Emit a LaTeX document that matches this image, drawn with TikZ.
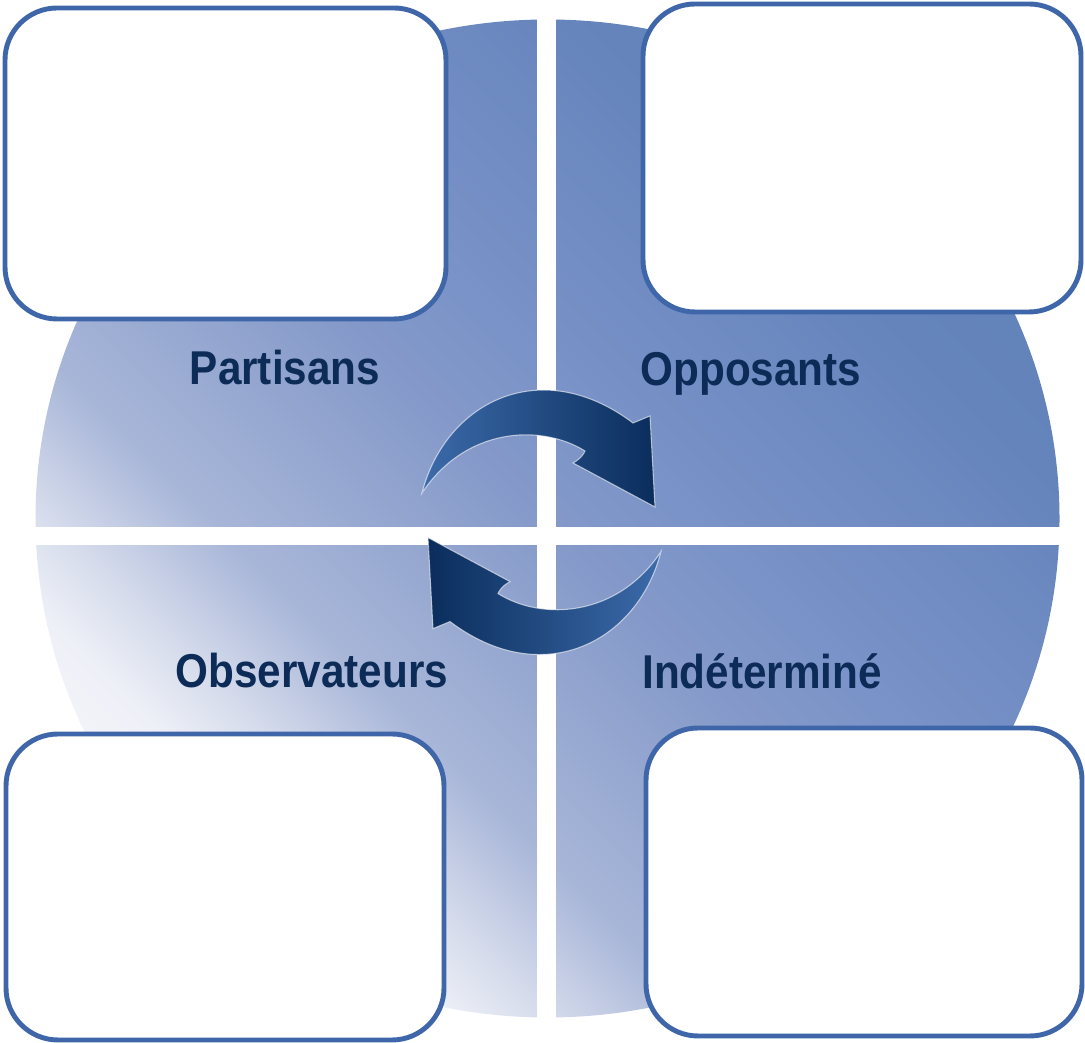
\documentclass[tikz,border=0pt]{standalone}
\usepackage{fontspec}
\setmainfont{Liberation Sans}[FakeStretch=0.89]
\usepackage{xcolor}
\definecolor{3e66a9}{HTML}{3E66A9}
\definecolor{0c2b57}{HTML}{0C2B57}
\definecolor{3c6baa}{HTML}{3C6BAA}
\definecolor{0a2d5c}{HTML}{0A2D5C}
\definecolor{f4f5fa}{HTML}{F4F5FA}
\definecolor{eef0f7}{HTML}{EEF0F7}
\definecolor{d6dcec}{HTML}{D6DCEC}
\definecolor{a8b6d8}{HTML}{A8B6D8}
\definecolor{8499c9}{HTML}{8499C9}
\definecolor{7a93c8}{HTML}{7A93C8}
\definecolor{6584bc}{HTML}{6584BC}
\definecolor{6282ba}{HTML}{6282BA}
\usepackage{tikz}

% fade of the disc along its diagonal; the disc spans 25bp .. 75bp
\pgfdeclarehorizontalshading{discfade}{100bp}{%
  color(0bp)=(white); color(25bp)=(f4f5fa); color(29bp)=(eef0f7);
  color(32.5bp)=(d6dcec); color(38bp)=(a8b6d8); color(50bp)=(8499c9);
  color(55bp)=(7a93c8); color(69bp)=(6584bc); color(75bp)=(6282ba);
  color(100bp)=(6282ba)}

\tikzset{
  namebox/.style={draw=3e66a9, line width=1.4pt, fill=white, rounded corners=0.52cm},
  quartlabel/.style={anchor=base, inner sep=0pt, text=0c2b57,
    font=\bfseries\fontsize{13.5}{16}\selectfont},
  turnarrow/.style={draw=white, draw opacity=0.6, line width=0.3pt},
}

\begin{document}
\begin{tikzpicture}[x=0.01cm, y=0.01cm]
            \useasboundingbox (0, 0) rectangle (1085, 1043);

            % the disc: a shaded square turned by 45 degrees, cut to the disc
            \begin{scope}
                \clip (547.5, 524.5) ellipse [x radius=512, y radius=499];
                \begin{scope}[transform canvas={rotate around={45:(547.5, 524.5)}}]
                    \shade[shading=discfade] (42.5, -35.5) rectangle (1052.5, 1084.5);
                \end{scope}
            \end{scope}

            % white cross between the quarters
            \fill[white] (537, 0) rectangle (556, 1043);
            \fill[white] (0, 498) rectangle (1085, 516);

            \draw[namebox] (5, 724) rectangle (446, 1035);
            \draw[namebox] (643, 731) rectangle (1081, 1039);
            \draw[namebox] (6, 3) rectangle (444, 309);
            \draw[namebox] (646, 7) rectangle (1082, 315);

            \node[quartlabel] (partisans) at (285, 658) {Partisans};
            \node[quartlabel] (opposants) at (751, 657) {Opposants};
            \node[quartlabel] (observateurs) at (312, 355) {Observateurs};
            \node[quartlabel] (indetermine) at (762, 354) {Indéterminé};

            % upper arrow, turning right
            \shade[turnarrow, left color=3c6baa, right color=0a2d5c]
                (422, 550) .. controls (445, 640) and (540, 690) .. (633, 620)
                -- (650, 627) -- (655, 536) -- (573, 580)
                .. controls (582, 585) and (584, 590) .. (585, 592)
                .. controls (540, 620) and (465, 615) .. (422, 550) -- cycle;

            % lower arrow, turning left
            \shade[turnarrow, left color=0a2d5c, right color=3c6baa]
                (661, 491.4) .. controls (638, 401.4) and (543, 351.4) .. (450, 421.4)
                -- (433, 414.4) -- (428, 505.4) -- (510, 461.4)
                .. controls (501, 456.4) and (499, 451.4) .. (498, 449.4)
                .. controls (543, 421.4) and (618, 426.4) .. (661, 491.4) -- cycle;
        \end{tikzpicture}
\end{document}
